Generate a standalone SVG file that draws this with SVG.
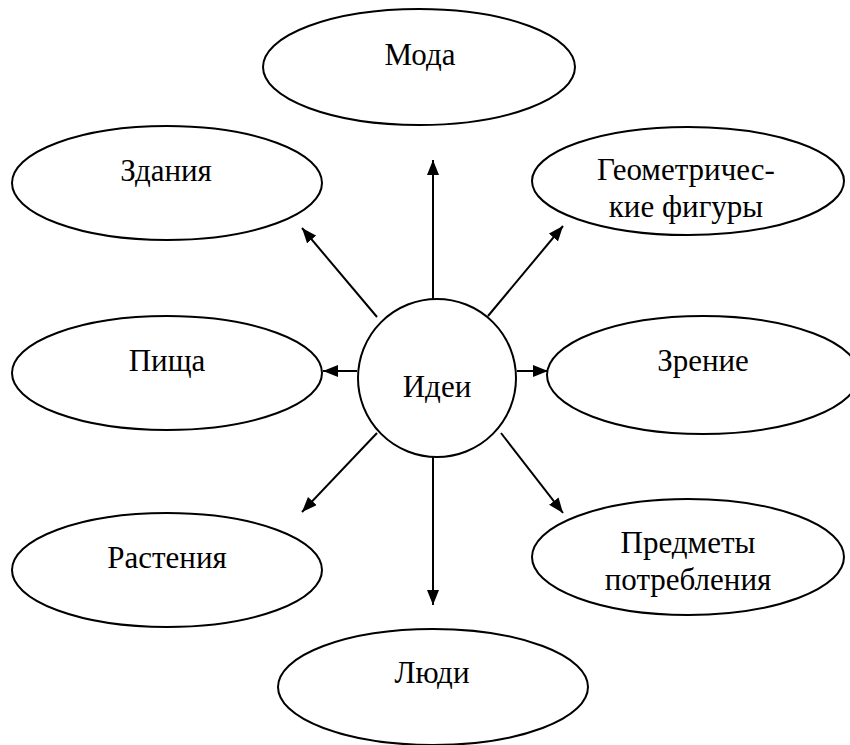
<svg xmlns="http://www.w3.org/2000/svg" width="850" height="745" viewBox="0 0 850 745">
<defs>
<marker id="ah" viewBox="0 0 15 12" refX="15" refY="6" markerWidth="15" markerHeight="12" markerUnits="userSpaceOnUse" orient="auto">
<path d="M0,0 L15,6 L0,12 z" fill="#000"/>
</marker>
</defs>
<rect width="850" height="745" fill="#fff"/>
<g id="connectors" stroke="#000" stroke-width="2" fill="none" marker-end="url(#ah)">
<line x1="433" y1="300" x2="433" y2="160"/>
<line x1="433" y1="456" x2="433" y2="605"/>
<line x1="357" y1="371" x2="323" y2="371"/>
<line x1="517" y1="371" x2="548" y2="371"/>
<line x1="377" y1="317" x2="302" y2="228"/>
<line x1="488" y1="316" x2="563" y2="226"/>
<line x1="377" y1="433" x2="302" y2="512"/>
<line x1="501" y1="433" x2="563" y2="513"/>
</g>
<g fill="#fff" stroke="#000" stroke-width="2">
<g id="moda"><ellipse cx="419" cy="67" rx="156" ry="58"/><text font-family="Liberation Serif" font-size="31" fill="#000" stroke="none" text-anchor="middle" x="420" y="65">Мода</text></g>
<g id="zdaniya"><ellipse cx="167" cy="183" rx="155" ry="57"/><text font-family="Liberation Serif" font-size="31" fill="#000" stroke="none" text-anchor="middle" x="166" y="181">Здания</text></g>
<g id="geom"><ellipse cx="688" cy="181" rx="156" ry="54"/><text font-family="Liberation Serif" font-size="31" fill="#000" stroke="none" text-anchor="middle" x="686" y="180">Геометричес-</text><text font-family="Liberation Serif" font-size="31" fill="#000" stroke="none" text-anchor="middle" x="686" y="217">кие фигуры</text></g>
<g id="ideas"><circle cx="437" cy="378" r="79"/><text font-family="Liberation Serif" font-size="31" fill="#000" stroke="none" text-anchor="middle" x="437" y="397">Идеи</text></g>
<g id="pishcha"><ellipse cx="167" cy="373" rx="155" ry="57"/><text font-family="Liberation Serif" font-size="31" fill="#000" stroke="none" text-anchor="middle" x="167" y="371">Пища</text></g>
<g id="zrenie"><ellipse cx="703" cy="375" rx="156" ry="59"/><text font-family="Liberation Serif" font-size="31" fill="#000" stroke="none" text-anchor="middle" x="703" y="371">Зрение</text></g>
<g id="rasteniya"><ellipse cx="167" cy="570" rx="155" ry="57"/><text font-family="Liberation Serif" font-size="31" fill="#000" stroke="none" text-anchor="middle" x="167" y="568">Растения</text></g>
<g id="predmety"><ellipse cx="688" cy="557" rx="156" ry="58"/><text font-family="Liberation Serif" font-size="31" fill="#000" stroke="none" text-anchor="middle" x="688" y="553">Предметы</text><text font-family="Liberation Serif" font-size="31" fill="#000" stroke="none" text-anchor="middle" x="688" y="590">потребления</text></g>
<g id="lyudi"><ellipse cx="433" cy="687" rx="155" ry="58"/><text font-family="Liberation Serif" font-size="31" fill="#000" stroke="none" text-anchor="middle" x="432" y="683">Люди</text></g>
</g>
</svg>
